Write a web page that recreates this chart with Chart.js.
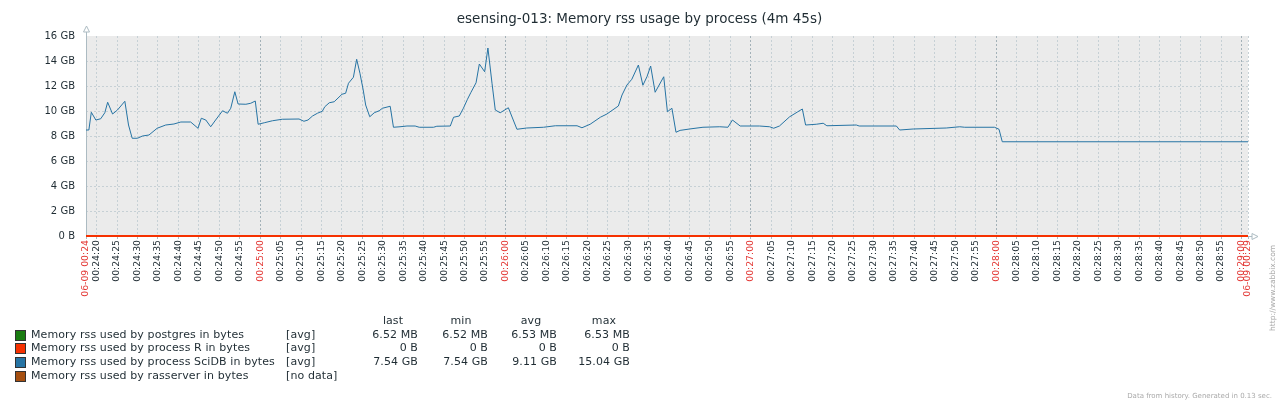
<!DOCTYPE html>
<html>
<head>
<meta charset="utf-8">
<script src="https://cdn.jsdelivr.net/npm/chart.js@4.4.1/dist/chart.umd.min.js"></script>
<style>
body { margin: 0; background: #fff; font-family: 'DejaVu Sans', sans-serif; color: #1F2C33; }
#wrap { position: relative; width: 1279px; height: 404px; overflow: hidden; }
#chart { position: absolute; left: 0; top: 0; }
.t { position: absolute; white-space: nowrap; }
#title { left: 0; width: 1279px; top: 10px; text-align: center; font-size: 13.5px; line-height: 17px; }
.lg { font-size: 11px; line-height: 14px; letter-spacing: 0.1px; }
.sq { position: absolute; width: 9px; height: 9px; border: 1px solid #333; }
#footer { right: 7px; top: 392px; font-size: 7px; color: #aaa; }
#url { left: 1268px; top: 331px; font-size: 7.5px; color: #aaa; transform-origin: left top; transform: rotate(-90deg); }
</style>
</head>
<body>
<div id="wrap">
  <canvas id="chart" width="1279" height="404"></canvas>
  <div class="t" id="title">esensing-013: Memory rss usage by process (4m 45s)</div>
  <div class="t" id="footer">Data from history. Generated in 0.13 sec.</div>
  <div class="t" id="url">http://www.zabbix.com</div>
</div>
<script>
// time in seconds after 06-09 00:24:00
const timeSec = [
  17.4, 18.1, 18.7, 19.8, 21.0, 22.0, 22.7, 23.9, 25.1, 26.9,
  27.8, 28.7, 30.0, 31.2, 32.8, 34.8, 36.9, 38.9, 40.6, 43.0,
  44.8, 45.6, 46.7, 47.9, 49.1, 50.8, 52.0, 52.8, 53.8, 54.6,
  56.5, 57.7, 58.8, 59.5, 61.0, 63.0, 65.4, 69.5, 70.7, 71.7,
  72.8, 74.0, 75.2, 75.8, 76.9, 78.1, 80.0, 80.9, 81.6, 82.8,
  83.6, 84.4, 85.2, 85.8, 86.8, 87.9, 89.1, 89.9, 91.8, 92.6,
  94.2, 95.9, 97.9, 98.9, 102.4, 103.2, 106.5, 107.3, 108.7, 109.7,
  110.7, 111.5, 112.8, 113.6, 114.9, 115.7, 116.7, 117.5, 118.7, 120.7,
  122.8, 125.2, 129.3, 132.2, 137.5, 138.7, 140.7, 143.2, 144.8, 147.6,
  148.5, 149.7, 150.9, 152.5, 153.6, 154.6, 155.5, 156.6, 158.7, 159.6,
  160.7, 161.7, 162.7, 165.0, 168.3, 172.4, 174.4, 175.5, 177.4, 182.1,
  184.6, 185.6, 187.0, 189.5, 191.5, 192.6, 193.4, 196.0, 197.7, 198.6,
  205.8, 206.5, 215.6, 216.4, 219.7, 227.8, 231.1, 232.3, 239.6, 240.7,
  241.5, 301.6
];

// SciDB rss in GB
const scidbGB = [
  8.48, 8.48, 9.90, 9.28, 9.38, 9.86, 10.70, 9.76, 10.08, 10.78,
  8.88, 7.82, 7.82, 8.00, 8.08, 8.62, 8.88, 8.96, 9.12, 9.12,
  8.62, 9.42, 9.28, 8.74, 9.28, 10.02, 9.82, 10.22, 11.54, 10.56,
  10.54, 10.62, 10.80, 8.94, 9.06, 9.22, 9.34, 9.36, 9.18, 9.28,
  9.60, 9.82, 9.98, 10.34, 10.66, 10.74, 11.34, 11.42, 12.22, 12.70,
  14.14, 13.02, 11.68, 10.48, 9.54, 9.86, 10.02, 10.22, 10.38, 8.70,
  8.74, 8.80, 8.80, 8.70, 8.70, 8.78, 8.80, 9.50, 9.60, 10.22,
  10.94, 11.46, 12.26, 13.76, 13.14, 15.04, 12.22, 10.08, 9.86, 10.26,
  8.54, 8.64, 8.70, 8.82, 8.82, 8.66, 8.94, 9.50, 9.76, 10.40,
  11.28, 12.08, 12.54, 13.68, 12.06, 12.74, 13.60, 11.50, 12.74, 9.94,
  10.22, 8.30, 8.45, 8.56, 8.70, 8.74, 8.70, 9.28, 8.80, 8.80,
  8.74, 8.62, 8.80, 9.54, 9.94, 10.16, 8.88, 8.94, 9.02, 8.82,
  8.88, 8.80, 8.80, 8.48, 8.56, 8.64, 8.74, 8.70, 8.70, 8.54,
  7.54, 7.54
];

const flatSec = [17.4, 301.6];
const postgresGB = [0.0064, 0.0064];   // 6.52 MB
const rGB = [0, 0];

const xTickSec = [
  17.4, 20, 25, 30, 35, 40, 45, 50, 55, 60, 65, 70, 75, 80, 85, 90, 95, 100,
  105, 110, 115, 120, 125, 130, 135, 140, 145, 150, 155, 160, 165, 170, 175,
  180, 185, 190, 195, 200, 205, 210, 215, 220, 225, 230, 235, 240, 245, 250,
  255, 260, 265, 270, 275, 280, 285, 290, 295, 300, 301.6
];
const yTickVals = [0, 2, 4, 6, 8, 10, 12, 14, 16];
const yTickLabels = ['0 B', '2 GB', '4 GB', '6 GB', '8 GB', '10 GB', '12 GB', '14 GB', '16 GB'];

// legend
const seriesNames = [
  'Memory rss used by postgres in bytes',
  'Memory rss used by process R in bytes',
  'Memory rss used by process SciDB in bytes',
  'Memory rss used by rasserver in bytes'
];
const seriesColors = ['#1A7C11', '#F63100', '#2774A4', '#A54F10'];
const seriesFunc = ['[avg]', '[avg]', '[avg]', '[no data]'];
const lastVals = ['6.52 MB', '0 B', '7.54 GB', ''];
const minVals = ['6.52 MB', '0 B', '7.54 GB', ''];
const avgVals = ['6.53 MB', '0 B', '9.11 GB', ''];
const maxVals = ['6.53 MB', '0 B', '15.04 GB', ''];
const statHeads = ['last', 'min', 'avg', 'max'];

const RED = '#E33734';
const first = xTickSec[0], last = xTickSec[xTickSec.length - 1];

function pad(n) { return (n < 10 ? '0' : '') + n; }
function fmtTime(s) {
  if (s === first) return '06-09 00:24';
  if (s === last) return '06-09 00:29';
  const m = 24 + Math.floor(s / 60);
  return '00:' + pad(m) + ':' + pad(s % 60);
}
function isMajor(s) { return s === first || s === last || s % 60 === 0; }

// plot background, axes and arrows
const zbxPlugin = {
  id: 'zbx',
  beforeDraw(chart) {
    const { ctx, chartArea: a } = chart;
    ctx.save();
    ctx.fillStyle = '#EBEBEB';
    ctx.fillRect(a.left, a.top, a.right - a.left, a.bottom - a.top);
    ctx.restore();
  },
  beforeDatasetsDraw(chart) {
    const { ctx, chartArea: a } = chart;
    const l = Math.round(a.left) + 0.5, b = Math.round(a.bottom) + 0.5, r = Math.round(a.right);
    ctx.save();
    ctx.strokeStyle = '#ACBBC2';
    ctx.fillStyle = '#fff';
    ctx.lineWidth = 1;
    ctx.beginPath();
    ctx.moveTo(l, b);
    ctx.lineTo(l, a.top - 4);
    ctx.moveTo(l, b);
    ctx.lineTo(r + 4, b);
    ctx.stroke();
    ctx.beginPath();
    ctx.moveTo(l, a.top - 10);
    ctx.lineTo(l - 3, a.top - 4);
    ctx.lineTo(l + 3, a.top - 4);
    ctx.closePath();
    ctx.fill();
    ctx.stroke();
    ctx.beginPath();
    ctx.moveTo(r + 10, b);
    ctx.lineTo(r + 4, b - 3);
    ctx.lineTo(r + 4, b + 3);
    ctx.closePath();
    ctx.fill();
    ctx.stroke();
    ctx.restore();
  }
};

Chart.defaults.font.family = "'DejaVu Sans', sans-serif";

new Chart(document.getElementById('chart'), {
  type: 'line',
  data: {
    datasets: [
      {
        label: seriesNames[2],
        data: timeSec.map((t, i) => ({ x: t, y: scidbGB[i] })),
        borderColor: seriesColors[2],
        borderWidth: 1,
        pointRadius: 0,
        tension: 0,
        clip: 4,
        order: 0
      },
      {
        label: seriesNames[1],
        data: flatSec.map((t, i) => ({ x: t, y: rGB[i] })),
        borderColor: seriesColors[1],
        borderWidth: 2,
        pointRadius: 0,
        clip: 4,
        order: 1
      },
      {
        label: seriesNames[0],
        data: flatSec.map((t, i) => ({ x: t, y: postgresGB[i] })),
        borderColor: seriesColors[0],
        borderWidth: 1,
        pointRadius: 0,
        clip: 4,
        order: 2
      }
    ]
  },
  options: {
    responsive: false,
    animation: false,
    devicePixelRatio: 1,
    layout: { padding: { left: 0, right: 31, top: 36, bottom: 0 } },
    plugins: {
      legend: { display: false },
      tooltip: { enabled: false },
      title: { display: false }
    },
    scales: {
      x: {
        type: 'linear',
        min: first,
        max: last,
        afterFit(s) { s.height = 168; },
        afterBuildTicks(s) { s.ticks = xTickSec.map(v => ({ value: v })); },
        border: { display: false, dash: [2, 2] },
        grid: {
          color: ctx => (ctx.tick && ctx.tick.value % 60 === 0) ? '#A3B1B8' : '#C6D0D5',
          tickLength: 3,
          tickColor: '#ACBBC2',
          tickBorderDash: []
        },
        ticks: {
          autoSkip: false,
          minRotation: 90,
          maxRotation: 90,
          padding: 1,
          font: { size: 9.3 },
          color: ctx => (ctx.tick && isMajor(ctx.tick.value)) ? RED : '#1F2C33',
          callback: v => fmtTime(v)
        }
      },
      y: {
        min: 0,
        max: 16,
        afterFit(s) { s.width = 86; },
        afterBuildTicks(s) { s.ticks = yTickVals.map(v => ({ value: v })); },
        border: { display: false, dash: [2, 2] },
        grid: {
          drawTicks: false,
          color: ctx => (ctx.tick && ctx.tick.value === 16) ? 'rgba(0,0,0,0)' : '#C6D0D5'
        },
        ticks: {
          padding: 11,
          font: { size: 10 },
          color: '#1F2C33',
          callback: v => yTickLabels[yTickVals.indexOf(v)]
        }
      }
    }
  },
  plugins: [zbxPlugin]
});

// legend table below the plot
const wrap = document.getElementById('wrap');
const rowY = [328, 341, 355, 369];
const colRight = [418, 488, 557, 630];
const headCenter = [393, 461, 531, 604];
const stats = [lastVals, minVals, avgVals, maxVals];

function addText(txt, css) {
  const d = document.createElement('div');
  d.className = 't lg';
  d.textContent = txt;
  Object.assign(d.style, css);
  wrap.appendChild(d);
  return d;
}

statHeads.forEach((h, c) => {
  const d = addText(h, { top: '314px', left: headCenter[c] + 'px' });
  d.style.transform = 'translateX(-50%)';
});

seriesNames.forEach((name, i) => {
  const sq = document.createElement('div');
  sq.className = 'sq';
  sq.style.left = '15px';
  sq.style.top = (rowY[i] + 2) + 'px';
  sq.style.background = seriesColors[i];
  wrap.appendChild(sq);
  addText(name, { top: rowY[i] + 'px', left: '31px' });
  addText(seriesFunc[i], { top: rowY[i] + 'px', left: '286px' });
  stats.forEach((arr, c) => {
    if (arr[i]) addText(arr[i], { top: rowY[i] + 'px', right: (1279 - colRight[c]) + 'px' });
  });
});
</script>
</body>
</html>
